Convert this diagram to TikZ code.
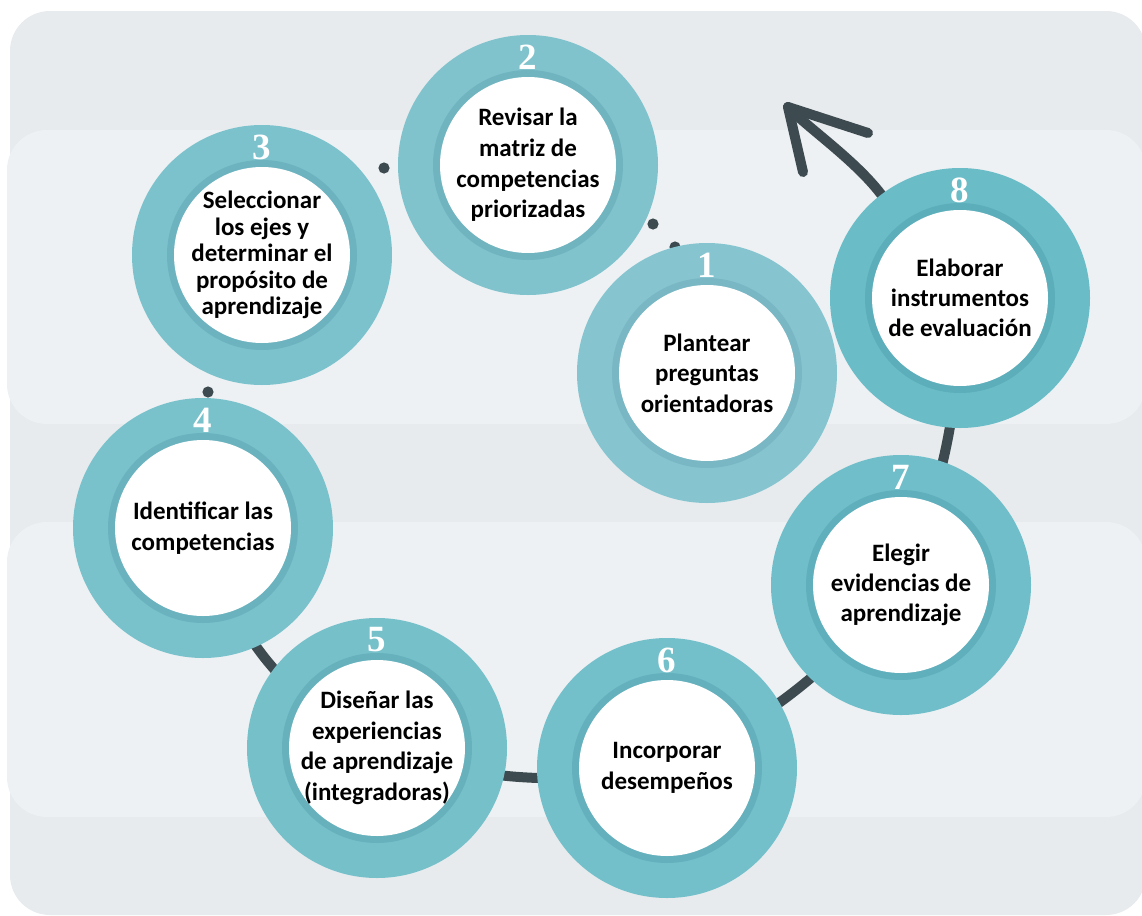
\documentclass[tikz,border=0pt]{standalone}
\usepackage{fontspec}
\newfontfamily\stepfont{Carlito}
\newfontfamily\numfont{Liberation Serif}
\pgfdeclarelayer{bgl}
\pgfdeclarelayer{midl}
\pgfsetlayers{bgl,midl,main}
\definecolor{bgout}{HTML}{E7EBEE}
\definecolor{bgband}{HTML}{EDF1F4}
\definecolor{conncol}{HTML}{3D4A50}
\definecolor{rA}{HTML}{86C5CF}\definecolor{iA}{HTML}{78B7C3}
\definecolor{rB}{HTML}{80C3CD}\definecolor{iB}{HTML}{70B4C0}
\definecolor{rC}{HTML}{7CC2CC}\definecolor{iC}{HTML}{6DB3BF}
\definecolor{rD}{HTML}{79C1CB}\definecolor{iD}{HTML}{6AB2BE}
\definecolor{rE}{HTML}{76C0CA}\definecolor{iE}{HTML}{67B1BD}
\definecolor{rF}{HTML}{73BFCA}\definecolor{iF}{HTML}{64B0BC}
\definecolor{rG}{HTML}{6FBEC9}\definecolor{iG}{HTML}{60AFBC}
\definecolor{rH}{HTML}{6ABCC7}\definecolor{iH}{HTML}{5CAEBA}
\tikzset{
  ringnode/.style={circle, minimum size=130pt, inner sep=0pt, outer sep=0pt},
  innerring/.style={circle, minimum size=95pt, inner sep=0pt, outer sep=0pt},
  whitecore/.style={circle, minimum size=88pt, fill=white, inner sep=0pt, outer sep=0pt},
  steptext/.style={align=center, text=black, inner sep=0pt},
  stepnum/.style={text=white, font=\numfont\bfseries\fontsize{18.5}{18.5}\selectfont, inner sep=0pt},
  conn/.style={draw=conncol, line width=5pt, line cap=round, line join=round},
  dotmark/.style={fill=conncol},
  panel/.style={fill=#1, rounded corners=20pt}
}
\newcommand{\stepnode}[8]{%
  \node[ringnode, fill=#6] (#1) at (#2,#3) {};
  \node[innerring, fill=#7] (#1i) at (#1.center) {};
  \node[whitecore] (#1w) at (#1.center) {};
  \node[steptext, font=\stepfont\bfseries\fontsize{12.5}{#8}\selectfont] (#1t) at (#1.center) {#5};
  \node[stepnum] (#1n) at ([yshift=54pt]#1.center) {#4};
}
\begin{document}
\begin{tikzpicture}[x=0.5pt,y=0.5pt]
\useasboundingbox (0,0) rectangle (1142,-916);
\begin{pgfonlayer}{bgl}
  \clip (0,0) rectangle (1142,-916);
  \fill[white] (0,0) rectangle (1142,-916);
  \path[panel=bgout] (10,-11) rectangle (1146,-915);
  \path[panel=bgband] (7,-130) rectangle (1146,-424);
  \path[panel=bgband] (7,-522) rectangle (1146,-817);
\end{pgfonlayer}

\stepnode{n1}{707}{-373}{1}{Plantear\\preguntas\\orientadoras}{rA}{iA}{15.3}
\stepnode{n2}{528}{-165}{2}{Revisar la\\matriz de\\competencias\\priorizadas}{rB}{iB}{15.3}
\stepnode{n3}{262}{-255}{3}{Seleccionar\\los ejes y\\determinar el\\propósito de\\aprendizaje}{rC}{iC}{13.3}
\stepnode{n4}{203}{-528}{4}{Identificar las\\competencias}{rD}{iD}{15.3}
\stepnode{n5}{377}{-748}{5}{Diseñar las\\experiencias\\de aprendizaje\\(integradoras)}{rE}{iE}{15.3}
\stepnode{n6}{667}{-768}{6}{Incorporar\\desempeños}{rF}{iF}{15.3}
\stepnode{n7}{901}{-585}{7}{Elegir\\evidencias de\\aprendizaje}{rG}{iG}{15}
\stepnode{n8}{960}{-298}{8}{Elaborar\\instrumentos\\de evaluación}{rH}{iH}{15}

\coordinate (d1) at (384,-168);
\coordinate (d2) at (653,-224);
\coordinate (d3) at (675,-247);
\coordinate (d4) at (208,-392);
\coordinate (tip) at (788,-107);
\coordinate (arm1) at (868,-133);
\coordinate (arm2) at (803,-172);

\begin{pgfonlayer}{midl}
  \foreach \d in {d1,d2,d3,d4} \fill[dotmark] (\d) circle (2.8pt);
  \draw[conn] (n4.center) to[bend right=23] (n5.center);
  \draw[conn] (n5.center) to[bend right=13] (n6.center);
  \draw[conn] (n6.center) to[bend right=12] (n7.center);
  \draw[conn] (n7.center) to[bend right=11] (n8.center);
  \draw[conn] (n8) .. controls (855,-160) and (808,-128) .. (tip);
  \draw[conn] (arm1) -- (tip) -- (arm2);
\end{pgfonlayer}
\end{tikzpicture}
\end{document}
